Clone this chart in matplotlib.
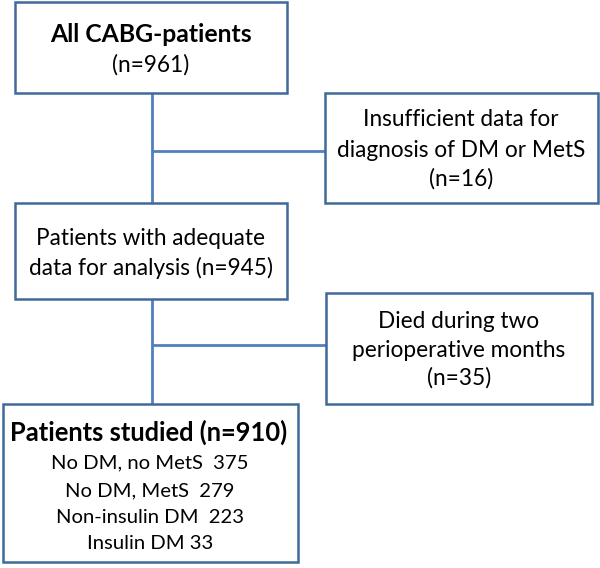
import matplotlib
matplotlib.use("Agg")
import matplotlib.pyplot as plt
from matplotlib.patches import Rectangle

FONT = "Lato"
EDGE = "#3E6A9A"
LINE = "#4F81BD"

top_title = "All CABG-patients"
top_n = "(n=961)"
excl1_lines = ["Insufficient data for", "diagnosis of DM or MetS", "(n=16)"]
mid_lines = ["Patients with adequate", "data for analysis (n=945)"]
excl2_lines = ["Died during two", "perioperative months", "(n=35)"]
final_title = "Patients studied (n=910)"
groups = ["No DM, no MetS", "No DM, MetS", "Non-insulin DM", "Insulin DM"]
group_counts = [375, 279, 223, 33]
group_sep = ["  ", "  ", "  ", " "]

fig = plt.figure(figsize=(6.0, 5.68), dpi=100)
ax = fig.add_axes([0, 0, 1, 1])
ax.set_xlim(0, 600)
ax.set_ylim(568, 0)
ax.axis("off")

def box(x0, y0, x1, y1):
    ax.add_patch(Rectangle((x0, y0), x1 - x0, y1 - y0, fill=True, facecolor="white",
                           edgecolor=EDGE, linewidth=1.8, zorder=3))

def lines_at(x, baselines, texts, size, weight="normal"):
    for yb, t in zip(baselines, texts):
        ax.text(x, yb, t, ha="center", va="baseline", fontsize=size,
                fontweight=weight, family=FONT, zorder=4)

# connectors
ax.plot([152, 152], [93, 404], color=LINE, lw=2, zorder=1, solid_capstyle="butt")
ax.plot([152, 326], [151, 151], color=LINE, lw=2, zorder=1, solid_capstyle="butt")
ax.plot([152, 326], [345, 345], color=LINE, lw=2, zorder=1, solid_capstyle="butt")

box(15, 2, 287, 93)
box(325, 93, 598, 203)
box(15, 203, 287, 299)
box(326, 293, 592, 404)
box(3, 404, 298, 562)

lines_at(151, [42], [top_title], 17.8, "bold")
lines_at(151, [72], [top_n], 16.3)
lines_at(461, [126, 157, 186], excl1_lines, 16.3)
lines_at(151, [245, 275], mid_lines, 16.3)
lines_at(459, [328, 357, 385], excl2_lines, 16.3)
lines_at(149, [441], [final_title], 18.4, "bold")
group_texts = [f"{g}{s}{c}" for g, s, c in zip(groups, group_sep, group_counts)]
lines_at(150, [468, 496, 523, 549], group_texts, 14.6)

fig.savefig("out.png", dpi=100)
